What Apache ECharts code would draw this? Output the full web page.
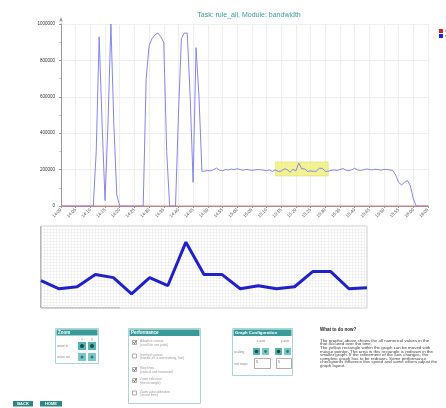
<!DOCTYPE html>
<html><head><meta charset="utf-8">
<script src="https://cdn.jsdelivr.net/npm/echarts@6/dist/echarts.min.js"></script>
<style>html,body{margin:0;padding:0;background:#fff;overflow:hidden}#c{width:446px;height:408px;}</style>
</head><body><div id="c"></div>
<script>
// ---- data ----
const titleText = 'Task: rule_all, Module: bandwidth';
const seriesNames = ['sent', 'received'];
const yTickValues = [0, 200000, 400000, 600000, 800000, 1000000];
const xTickLabels = ['14:00','14:05','14:10','14:15','14:20','14:25','14:30','14:35','14:40','14:45',
  '14:50','14:55','15:00','15:05','15:10','15:15','15:20','15:25','15:30','15:35',
  '15:40','15:45','15:50','15:55','16:00','16:05'];
// blue series (one value per time step)
const blueValues = [
  0,0,0,0,0,0,0,0,0,0,0,0,
  300000,930000,450000,30000,450000,1000000,450000,60000,
  0,0,0,0,0,0,0,0,0,
  700000,880000,920000,940000,950000,930000,900000,300000,
  0,0,0,
  500000,920000,950000,950000,600000,130000,870000,600000,190000,
  192000,195000,193000,200000,208000,196000,194000,200000,198000,203000,
  199000,205000,200000,197000,201000,199000,196000,198000,200000,199000,
  197000,195000,198000,190000,
  198000,190000,192000,204000,201000,185000,201000,193000,236000,204000,
  204000,190000,193000,190000,192000,207000,207000,190000,191000,
  196000,198000,195000,200000,206000,197000,194000,199000,207000,198000,
  195000,199000,203000,201000,198000,202000,200000,197000,201000,200000,
  198000,195000,170000,130000,115000,130000,140000,110000,40000,
  0,0,0,0,0
];
const redValues = [
  0,0,0,0,0,0,0,0,0,0,0,0,0,0,0,0,0,0,0,0,0,
  0,0,0,0,0,0,0,0,0,0,0,0,0,0,0,0,0,0,0,0,0,
  0,0,0,0,0,0,0,0,0,0,0,0,0,0,0,0,0,0,0,0,0,
  0,0,0,0,0,0,0,0,0,0,0,0,0,0,0,0,0,0,0,0,0,
  0,0,0,0,0,0,0,0,0,0,0,0,0,0,0,0,0,0,0,0,0,
  0,0,0,0,0,0,0,0,0,0,0,0,0,0,0,0,0,0,0,0,0
];
const zoomStart = 73;   // first step inside the yellow selection
const zoomCount = 19;   // steps shown in the small graph

const perfItems = [
  ['Adaptive canvas', '(scroll for one point)', true],
  ['Inverted canvas', '(handle all, a one working, fast)', false],
  ['Step lines', '(vertical and horizontal)', true],
  ['Zoom selection', '(the rectangle)', true],
  ['Zoom autocalibration', '(in real time)', false]
];
const helpTitle = 'What to do now?';
const helpLines = [
  'The graphic above shows the all numerical values in the',
  'that occured over the time.',
  'The yellow rectangle within the graph can be moved with',
  'mouse pointer. The area in this rectangle is redrawn in the',
  'smaller graph. If the refinement of the axis changes, the',
  'complete graph has to be redrawn. Some performance',
  'checkpoints influence this speed and some others adjust the',
  'graph layout.'
];

// ---- build ----
const FF = 'Liberation Sans';
const mainBlue = blueValues.map((v, i) => [i, v]);
const mainRed = redValues.map((v, i) => [i, v]);
const zoomData = blueValues.slice(zoomStart, zoomStart + zoomCount).map((v, i) => [i, v]);

const G = [];
function rect(x, y, w, h, fill, stroke, lw) {
  G.push({type:'rect', silent:true, shape:{x, y, width:w, height:h}, style:{fill:fill||'none', stroke:stroke||'none', lineWidth:lw||1}});
}
function txt(x, y, s, size, color, weight, align) {
  G.push({type:'text', silent:true, x, y, style:{text:s, fontSize:size, fill:color, fontWeight:weight||'normal', fontFamily:FF, align:align||'left', verticalAlign:'middle'}});
}
function dot(cx, cy, r, fill) {
  G.push({type:'circle', silent:true, shape:{cx, cy, r}, style:{fill}});
}
function line(x1, y1, x2, y2, stroke, lw) {
  G.push({type:'line', silent:true, shape:{x1, y1, x2, y2}, style:{stroke, lineWidth:lw||1}});
}
const TEAL = '#3a9a9a', BORDER = '#a9d6d6', BTN = '#56b4b4', BTN2 = '#7ac8c8';

// zoom chart border accents
line(41, 226, 41, 308, '#999', 1.2);
line(41, 308, 120, 308, '#999', 1.2);

// Panel: Zoom
rect(55.5, 328.5, 43, 35, '#fff', BORDER, 1);
rect(56.5, 329.5, 41, 6, TEAL);
txt(58, 332.5, 'Zoom', 4.5, '#fff', 'bold');
txt(82, 339, 'x', 3.5, '#888', 'normal', 'center');
txt(92, 339, 'y', 3.5, '#888', 'normal', 'center');
txt(57, 346, 'zoom in', 3.2, '#888');
txt(57, 357, 'zoom out', 3.2, '#888');
rect(78, 342, 8, 8, BTN); dot(82, 346, 2, '#1d4d4d');
rect(88, 342, 8, 8, BTN); dot(92, 346, 2, '#1d4d4d');
rect(78, 353, 8, 8, BTN2); dot(82, 357, 1.5, '#2f7a7a');
rect(88, 353, 8, 8, BTN2); dot(92, 357, 1.5, '#2f7a7a');

// Panel: Performance
rect(128.5, 328.5, 72, 75, '#fff', BORDER, 1);
rect(129.5, 329.5, 70, 6.5, TEAL);
txt(131, 332.8, 'Performance', 4.5, '#fff', 'bold');
const perfY = [342.5, 356, 369.5, 380.5, 393];
perfItems.forEach((it, k) => {
  const y = perfY[k];
  rect(132.5, y - 2, 4, 4, '#fff', '#999', 0.8);
  if (it[2]) { line(133.3, y - 0.2, 134.5, y + 1.2, '#555', 0.9); line(134.5, y + 1.2, 136.4, y - 2, '#555', 0.9); }
  txt(140, y - 1, it[0], 3.2, '#999');
  txt(140, y + 2.6, it[1], 3.2, '#999');
});

// Panel: Graph Configuration
rect(232.5, 328.5, 60, 47, '#fff', BORDER, 1);
rect(233.5, 329.5, 58, 6.5, TEAL);
txt(235, 332.8, 'Graph Configuration', 4.3, '#fff', 'bold');
txt(261, 341, 'x-axis', 3.2, '#888', 'normal', 'center');
txt(285, 341, 'y-axis', 3.2, '#888', 'normal', 'center');
txt(234, 352, 'scaling', 3.2, '#888');
txt(234, 364, 'text steps', 3.2, '#888');
rect(253, 348, 7, 7, BTN); dot(256.5, 351.5, 1.8, '#1d4d4d');
rect(262, 348, 7, 7, BTN2); dot(265.5, 351.5, 1.4, '#2f7a7a');
rect(275, 348, 7, 7, BTN); dot(278.5, 351.5, 1.8, '#1d4d4d');
rect(284, 348, 7, 7, BTN2); dot(287.5, 351.5, 1.4, '#2f7a7a');
rect(254.5, 358.5, 16, 10, '#fff', '#999', 0.8);
rect(276.5, 358.5, 15, 10, '#fff', '#999', 0.8);
txt(256, 362, '5', 3.5, '#555');
txt(278, 362, '5', 3.5, '#555');

// Help text
txt(320, 329.5, helpTitle, 4.5, '#222', 'bold');
helpLines.forEach((s, k) => txt(320, 340.5 + k * 3.6, s, 4.4, '#444'));

// Buttons
rect(13, 401, 20, 5.5, '#2c8787'); txt(23, 403.8, 'BACK', 4, '#fff', 'bold', 'center');
rect(40, 401, 22, 5.5, '#2c8787'); txt(51, 403.8, 'HOME', 4, '#fff', 'bold', 'center');

const chart = echarts.init(document.getElementById('c'), null, {renderer:'canvas'});
chart.setOption({
  animation: false,
  backgroundColor: '#fff',
  title: {text: titleText, left: 244, top: 7, textAlign: 'center',
    textStyle: {fontSize: 7, color: '#3a9a9a', fontWeight: 'normal', fontFamily: FF}},
  legend: {orient: 'vertical', left: 434, top: 24, itemWidth: 4, itemHeight: 4, itemGap: 1,
    icon: 'rect', textStyle: {fontSize: 3.5, color: '#333', padding: [0,0,0,-3]}, data: seriesNames},
  grid: [
    {left: 61, right: 18, top: 24, bottom: 202, containLabel: false},
    {left: 41, right: 79, top: 226, bottom: 100, show: true, backgroundColor: '#fff', borderColor: '#ccc', borderWidth: 1}
  ],
  xAxis: [
    {gridIndex: 0, type: 'value', min: 0, max: 125, interval: 5,
      axisLine: {lineStyle: {color: '#999', width: 1}},
      axisTick: {show: true, length: 2, lineStyle: {color: '#999'}},
      axisLabel: {fontSize: 4.5, color: '#555', rotate: 45, margin: 3, fontFamily: FF,
        formatter: v => xTickLabels[Math.round(v / 5)] || ''},
      splitLine: {show: true, lineStyle: {color: '#efefef', width: 1}}},
    {gridIndex: 1, type: 'value', min: 0, max: zoomCount - 1, interval: 1,
      axisLine: {show: false}, axisTick: {show: false}, axisLabel: {show: false},
      splitLine: {show: true, lineStyle: {color: '#e8e8e8', width: 0.5}},
      minorTick: {show: false, splitNumber: 6},
      minorSplitLine: {show: true, lineStyle: {color: '#e8e8e8', width: 0.5}}}
  ],
  yAxis: [
    {gridIndex: 0, type: 'value', min: 0, max: 1000000, interval: 200000,
      axisLine: {show: true, symbol: ['none', 'arrow'], symbolSize: [3, 5], symbolOffset: [0, 7], lineStyle: {color: '#999', width: 1}},
      axisTick: {show: true, length: 2, lineStyle: {color: '#999'}},
      minorTick: {show: true, splitNumber: 2, length: 1.5, lineStyle: {color: '#bbb'}},
      axisLabel: {fontSize: 4.5, color: '#333', margin: 6, fontFamily: FF,
        formatter: v => (yTickValues.indexOf(v) >= 0 ? String(v) : '')},
      splitLine: {show: true, lineStyle: {color: '#efefef', width: 1}}},
    {gridIndex: 1, type: 'value', min: 171000, max: 252000, interval: 3000,
      axisLine: {show: false}, axisTick: {show: false}, axisLabel: {show: false},
      splitLine: {show: true, lineStyle: {color: '#e8e8e8', width: 0.5}}}
  ],
  series: [
    {name: seriesNames[1], type: 'line', xAxisIndex: 0, yAxisIndex: 0, data: mainBlue,
      showSymbol: false, lineStyle: {color: '#8585f0', width: 1}, itemStyle: {color: '#2020e0'}, z: 3,
      markArea: {silent: true, itemStyle: {color: 'rgba(238,238,110,0.75)', borderColor: '#d8d860', borderWidth: 0.5},
        data: [[{xAxis: zoomStart, yAxis: 165000}, {xAxis: zoomStart + zoomCount - 1, yAxis: 242000}]]}},
    {name: seriesNames[0], type: 'line', xAxisIndex: 0, yAxisIndex: 0, data: mainRed,
      showSymbol: false, lineStyle: {color: '#f07070', width: 1}, itemStyle: {color: '#e02020'}, z: 4},
    {name: 'zoom', type: 'line', xAxisIndex: 1, yAxisIndex: 1, data: zoomData,
      showSymbol: false, lineStyle: {color: '#2020cc', width: 3}, z: 5}
  ],
  graphic: {elements: G}
});
</script>
</body></html>
